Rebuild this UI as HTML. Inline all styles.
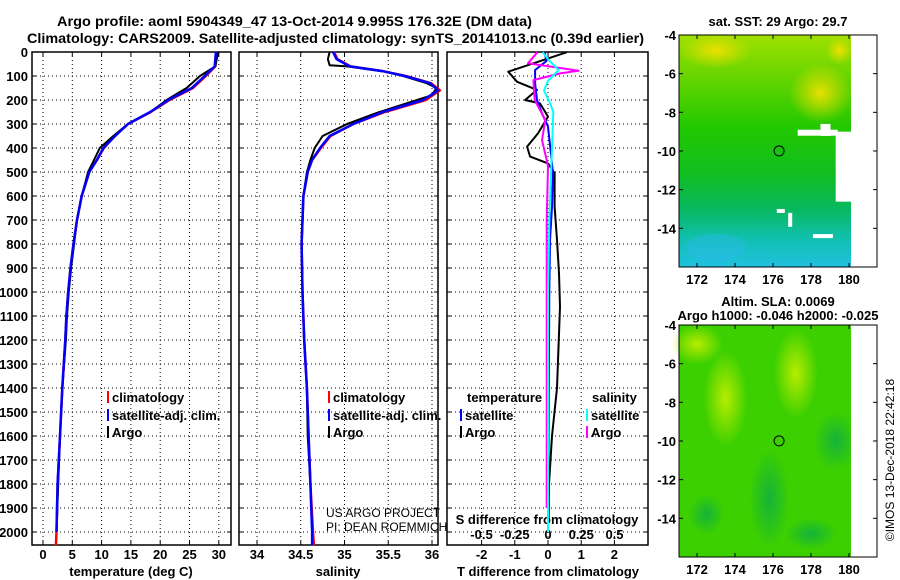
<!DOCTYPE html>
<html><head><meta charset="utf-8"><style>
body{margin:0;background:#fff;}
svg{display:block;font-family:"Liberation Sans",sans-serif;font-weight:bold;}
</style></head><body>
<svg id="c" width="900" height="580" viewBox="0 0 900 580" xmlns="http://www.w3.org/2000/svg">
<defs>
<linearGradient id="sstg" x1="0" y1="0" x2="0" y2="1">
<stop offset="0" stop-color="#a0e000"/><stop offset="0.2" stop-color="#60d400"/><stop offset="0.4" stop-color="#22c800"/><stop offset="0.6" stop-color="#10be20"/><stop offset="0.75" stop-color="#08b860"/><stop offset="0.88" stop-color="#10c0b0"/><stop offset="1" stop-color="#20c0e0"/>
</linearGradient>
<radialGradient id="yb" cx="0.5" cy="0.5" r="0.5"><stop offset="0" stop-color="#f0e000" stop-opacity="0.95"/><stop offset="1" stop-color="#e8e000" stop-opacity="0"/></radialGradient>
<radialGradient id="lg" cx="0.5" cy="0.5" r="0.5"><stop offset="0" stop-color="#b8ec00" stop-opacity="1"/><stop offset="1" stop-color="#b8ec00" stop-opacity="0"/></radialGradient>
<radialGradient id="dg" cx="0.5" cy="0.5" r="0.5"><stop offset="0" stop-color="#10b040" stop-opacity="0.9"/><stop offset="1" stop-color="#10b040" stop-opacity="0"/></radialGradient>
</defs>
<text x="57" y="26" font-size="14" textLength="475" lengthAdjust="spacingAndGlyphs">Argo profile: aoml 5904349_47 13-Oct-2014 9.995S 176.32E (DM data)</text>
<text x="27" y="43" font-size="14" textLength="617" lengthAdjust="spacingAndGlyphs">Climatology: CARS2009. Satellite-adjusted climatology: synTS_20141013.nc (0.39d earlier)</text>
<g id="plots"></g>
<g id="maps"></g>
</svg>
<script>
// ---- data ----
const depthsArgoT = [0,60,100,150,200,250,300,350,400,450,500,600,700,800,900,1000,1100,1200,1400,1600,1800,2000];
const argoT = [29.9,29.4,26.8,24.5,21.1,18.3,14.5,12.0,9.7,8.7,7.7,6.6,5.8,5.3,4.8,4.4,4.1,3.9,3.3,2.9,2.6,2.3];
const depthsClimT = [0,60,100,150,200,250,300,350,400,450,500,600,700,800,900,1000,1100,1200,1400,1600,1800,2000,2055];
const climT = [29.6,29.4,27.8,25.6,21.6,18.4,14.5,12.2,10.4,9.2,7.9,6.6,5.8,5.2,4.7,4.3,4.0,3.8,3.3,2.9,2.5,2.3,2.2];
const satT = [29.5,29.3,27.6,25.4,21.4,18.3,14.5,12.3,10.3,9.2,7.9,6.6,5.8,5.2,4.7,4.3,4.0,3.8,3.3,2.9,2.5,2.3];
const depthsArgoS = [0,30,55,60,80,100,130,150,180,200,250,300,350,400,450,500,600,800,1000,1200,1400,1600,1800,2000];
const argoS = [34.83,34.81,34.83,35.03,35.44,35.67,35.94,36.05,36.0,35.83,35.4,35.03,34.75,34.66,34.61,34.57,34.53,34.51,34.52,34.54,34.57,34.58,34.61,34.63];
const depthsClimS = [0,30,60,80,100,130,160,200,250,300,350,400,450,500,600,800,1000,1200,1400,1600,1800,2000,2055];
const climS = [34.88,34.92,35.07,35.44,35.7,35.99,36.09,35.93,35.46,35.1,34.84,34.73,34.63,34.58,34.53,34.51,34.52,34.54,34.57,34.59,34.61,34.64,34.65];
const satS = [34.87,34.91,35.06,35.44,35.69,35.98,36.07,35.9,35.44,35.1,34.83,34.72,34.63,34.58,34.53,34.51,34.52,34.54,34.57,34.59,34.61,34.63,34.63];
const depthsDT = [1,82,124,158,200,214,269,339,394,436,464,505,644,783,922,1061,1400,1600,1800,1950];
const argoDT = [0.57,-1.2,-0.93,-0.33,-0.69,-0.24,0,-0.3,-0.63,-0.54,0,0.2,0.2,0.27,0.33,0.36,0.27,0.12,0.03,0.02];
const depthsSatDT = [1,38,75,130,200,256,311,505,644,783,1000,1500,2000];
const satDT = [-0.1,-0.05,-0.39,-0.39,-0.33,-0.18,0,0.15,0.12,0.06,0.04,0.02,0.0];
const depthsDS = [1,47,78,89,117,200,283,367,450,478,700,1000,1500,1900];
const argoDS = [-0.08,-0.15,0.23,0.09,-0.11,-0.1,-0.02,-0.045,-0.01,0.0,-0.01,-0.01,-0.01,-0.01];
const depthsSatDS = [1,30,75,120,160,220,250,400,700,1000,1500,2000];
const satDS = [-0.04,0.0,0.08,0.0,-0.03,0.02,0.04,0.03,0.01,0.0,0.0,0.0];
const depthTicks = [0,100,200,300,400,500,600,700,800,900,1000,1100,1200,1300,1400,1500,1600,1700,1800,1900,2000];
const tempTicks = [0,5,10,15,20,25,30];
const salTicks = [34,34.5,35,35.5,36];
const salTickLabels = ['34','34.5','35','35.5','36'];
const dtTicks = [-2,-1,0,1,2];
const dsTicks = [-0.5,-0.25,0,0.25,0.5];
const dsTickLabels = ['-0.5','-0.25','0','0.25','0.5'];
const lonTicks = [172,174,176,178,180];
const latTicks = [-4,-6,-8,-10,-12,-14];
const argoLon = [176.32];
const argoLat = [-9.995];

const NS='http://www.w3.org/2000/svg';
function el(tag, attrs, parent, txt){const e=document.createElementNS(NS,tag);for(const k in attrs)e.setAttribute(k,attrs[k]);if(txt!==undefined)e.textContent=txt;parent.appendChild(e);return e;}
const plots=document.getElementById('plots');
const yD = d => 52 + d*0.24;
const PB = 545;
const panels = [
 {x0:32,x1:231,sx:v=>43+v*5.86, name:'temperature-panel'},
 {x0:239,x1:438,sx:v=>257+(v-34)*87.5, name:'salinity-panel'},
 {x0:447,x1:648,sx:v=>548+v*33.2, name:'difference-panel'}
];
const sxDS = v=>548+v*133;
panels.forEach((p,i)=>{
  const g=el('g',{},plots);
  
  
  depthTicks.forEach(d=>{
    const y=yD(d);
    const l=el('line',{x1:p.x0,x2:p.x1,y1:y,y2:y,stroke:'#000','stroke-width':1,'stroke-dasharray':'1,3'},g);
    
    
    el('line',{x1:p.x0,x2:p.x0+4,y1:y,y2:y,stroke:'#000'},g);
    el('line',{x1:p.x1-4,x2:p.x1,y1:y,y2:y,stroke:'#000'},g);
  });
  const ticks = i==0?tempTicks:(i==1?salTicks:dtTicks);
  ticks.forEach(t=>{
    const x=p.sx(t);
    const l=el('line',{x1:x,x2:x,y1:52,y2:PB,stroke:'#000','stroke-width':1,'stroke-dasharray':'1,3'},g);
    
    
    el('line',{x1:x,x2:x,y1:52,y2:56,stroke:'#000'},g);
    el('line',{x1:x,x2:x,y1:PB-4,y2:PB,stroke:'#000'},g);
  });
  const r=el('rect',{x:p.x0,y:52,width:p.x1-p.x0,height:PB-52,fill:'none',stroke:'#000','stroke-width':1.5},g);
  
  
});
depthTicks.forEach(d=>{
  const t=el('text',{x:28,y:yD(d)+5,'font-size':13,'text-anchor':'end'},plots,String(d));
  
  
});
tempTicks.forEach(v=>{const t=el('text',{x:panels[0].sx(v),y:559,'font-size':13,'text-anchor':'middle'},plots,String(v));
 });
salTicks.forEach((v,i)=>{const t=el('text',{x:panels[1].sx(v),y:559,'font-size':13,'text-anchor':'middle'},plots,salTickLabels[i]);
 });
dtTicks.forEach(v=>{const t=el('text',{x:panels[2].sx(v),y:559,'font-size':13,'text-anchor':'middle'},plots,String(v));
 });
dsTicks.forEach((v,i)=>{const t=el('text',{x:sxDS(v),y:539,'font-size':13,'text-anchor':'middle'},plots,dsTickLabels[i]);
 });
[[131,'temperature (deg C)','temperature-axis-title'],[338,'salinity','salinity-axis-title'],[548,'T difference from climatology','t-diff-axis-title']].forEach(a=>{
  const t=el('text',{x:a[0],y:576,'font-size':13,'text-anchor':'middle'},plots,a[1]);
  
});
{const t=el('text',{x:547,y:524,'font-size':13,'text-anchor':'middle'},plots,'S difference from climatology');
 }
function line(depths, vals, sx, color, w, name){
  const pts=depths.map((d,i)=>sx(vals[i]).toFixed(1)+','+yD(d).toFixed(1)).join(' ');
  const pl=el('polyline',{points:pts,fill:'none',stroke:color,'stroke-width':w,'stroke-linejoin':'round'},plots);
  
  
}
line(depthsClimT, climT, panels[0].sx,'#ff0000',2.5,'climatology-temperature-line');
line(depthsArgoT, argoT, panels[0].sx,'#000',2,'argo-temperature-line');
line(depthsClimT.slice(0,satT.length), satT, panels[0].sx,'#0000ff',2.5,'satellite-temperature-line');
line(depthsClimS, climS, panels[1].sx,'#ff0000',2.5,'climatology-salinity-line');
line(depthsArgoS, argoS, panels[1].sx,'#000',2,'argo-salinity-line');
line(depthsClimS, satS, panels[1].sx,'#0000ff',2.5,'satellite-salinity-line');
line(depthsDT, argoDT, panels[2].sx,'#000',2,'argo-t-diff-line');
line(depthsSatDT, satDT, panels[2].sx,'#0000ff',2,'satellite-t-diff-line');
line(depthsDS, argoDS, sxDS,'#ff00ff',2,'argo-s-diff-line');
line(depthsSatDS, satDS, sxDS,'#00ffff',2,'satellite-s-diff-line');
function leg(x,y,color,label,name){
  const g=el('g',{},plots);
  
  
  el('rect',{x:x,y:y-11,width:2,height:12,fill:color},g);
  el('text',{x:x+5,y:y,'font-size':13},g,label);
}
leg(107,402,'#ff0000','climatology','legend-climatology');
leg(107,420,'#0000ff','satellite-adj. clim.','legend-satellite-adj');
leg(107,437,'#000','Argo','legend-argo');
leg(328,402,'#ff0000','climatology','legend-climatology-salinity');
leg(328,420,'#0000ff','satellite-adj. clim.','legend-satellite-adj-salinity');
leg(328,437,'#000','Argo','legend-argo-salinity');
{const t=el('text',{x:467,y:402,'font-size':13},plots,'temperature');}
{const t=el('text',{x:592,y:402,'font-size':13},plots,'salinity');}
leg(460,420,'#0000ff','satellite','legend-t-satellite');
leg(460,437,'#000','Argo','legend-t-argo');
leg(586,420,'#00ffff','satellite','legend-s-satellite');
leg(586,437,'#ff00ff','Argo','legend-s-argo');
{const t=el('text',{x:326,y:517,'font-size':12,'font-weight':'normal'},plots,'US ARGO PROJECT');}
{const t=el('text',{x:326,y:531,'font-size':12,'font-weight':'normal'},plots,'PI: DEAN ROEMMICH');}

// ---- maps ----
const maps=document.getElementById('maps');
const mx0=679, mx1=877, dataX1=851;
const lonX = lon => 697 + (lon-172)*19;
function map(y0, kind, title1, title2, name){
  const g=el('g',{},maps);
  
  
  const latY = lat => y0 + (-4-lat)*19.33;
  const y1=y0+232;
  if(kind==='sst'){
    el('rect',{x:mx0,y:y0,width:dataX1-mx0,height:y1-y0,fill:'url(#sstg)'},g);
    el('ellipse',{cx:lonX(178.5),cy:latY(-7),rx:32,ry:30,fill:'url(#yb)'},g);
    el('ellipse',{cx:lonX(173),cy:latY(-4.8),rx:36,ry:18,fill:'url(#yb)'},g);
    el('ellipse',{cx:lonX(179.5),cy:latY(-4.8),rx:14,ry:14,fill:'url(#yb)'},g);
    el('ellipse',{cx:lonX(173),cy:latY(-15),rx:30,ry:14,fill:'#30b8f0',opacity:0.4},g);
    [[177.3,-8.9,40,6],[178.5,-8.6,10,12],[176.8,-13.2,4,14],[178.1,-14.3,20,4],[176.2,-13.0,8,4]].forEach(w=>{
      el('rect',{x:lonX(w[0]),y:latY(w[1]),width:w[2],height:w[3],fill:'#fff'},g);
    });
    el('rect',{x:lonX(179.3),y:latY(-9),width:30,height:70,fill:'#fff'},g);
  } else {
    el('rect',{x:mx0,y:y0,width:dataX1-mx0,height:y1-y0,fill:'#3cd000'},g);
    el('ellipse',{cx:lonX(173.5),cy:latY(-7.8),rx:22,ry:48,fill:'url(#lg)'},g);
    el('ellipse',{cx:lonX(177.2),cy:latY(-6.5),rx:22,ry:45,fill:'url(#lg)'},g);
    el('ellipse',{cx:lonX(172),cy:latY(-5),rx:26,ry:20,fill:'url(#lg)'},g);
    el('ellipse',{cx:lonX(175.8),cy:latY(-13),rx:20,ry:50,fill:'url(#dg)'},g);
    el('ellipse',{cx:lonX(179.3),cy:latY(-10),rx:22,ry:30,fill:'url(#dg)'},g);
    el('ellipse',{cx:lonX(178),cy:latY(-14.8),rx:26,ry:16,fill:'url(#dg)'},g);
    el('ellipse',{cx:lonX(172.5),cy:latY(-13.8),rx:18,ry:20,fill:'url(#dg)'},g);
  }
  el('rect',{x:dataX1,y:y0,width:mx1-dataX1,height:y1-y0,fill:'#fff'},g);
  argoLon.forEach((lo,i)=>{
    const c=el('circle',{cx:lonX(lo),cy:latY(argoLat[i]),r:5,fill:'none',stroke:'#000','stroke-width':1},g);
    
    
  });
  const fr=el('rect',{x:mx0,y:y0,width:mx1-mx0,height:y1-y0,fill:'none',stroke:'#000','stroke-width':1},g);
  
  
  lonTicks.forEach(lo=>{
    const x=lonX(lo);
    el('line',{x1:x,x2:x,y1:y0,y2:y0+4,stroke:'#000'},g);
    el('line',{x1:x,x2:x,y1:y1-4,y2:y1,stroke:'#000'},g);
    const t=el('text',{x:x,y:y1+17,'font-size':13,'text-anchor':'middle'},g,String(lo));
    
    
  });
  latTicks.forEach(la=>{
    const y=latY(la);
    el('line',{x1:mx0,x2:mx0+4,y1:y,y2:y,stroke:'#000'},g);
    el('line',{x1:mx1-4,x2:mx1,y1:y,y2:y,stroke:'#000'},g);
    const t=el('text',{x:mx0-3,y:y+5,'font-size':13,'text-anchor':'end'},g,String(la));
    
    
  });
  const t1=el('text',{x:778,y:y0-(title2?19:9),'font-size':13,'text-anchor':'middle'},g,title1);
  
  
  if(title2){const t2=el('text',{x:778,y:y0-5,'font-size':13,'text-anchor':'middle'},g,title2);
  
  }
}
map(35,'sst','sat. SST: 29 Argo: 29.7',null,'sst-map');
map(325,'sla','Altim. SLA: 0.0069','Argo h1000: -0.046 h2000: -0.025','sla-map');
{const t=el('text',{x:0,y:0,'font-size':12,'font-weight':'normal','text-anchor':'middle',transform:'translate(894,460) rotate(-90)'},maps,'©IMOS 13-Dec-2018 22:42:18');
 }
</script>
</body></html>
